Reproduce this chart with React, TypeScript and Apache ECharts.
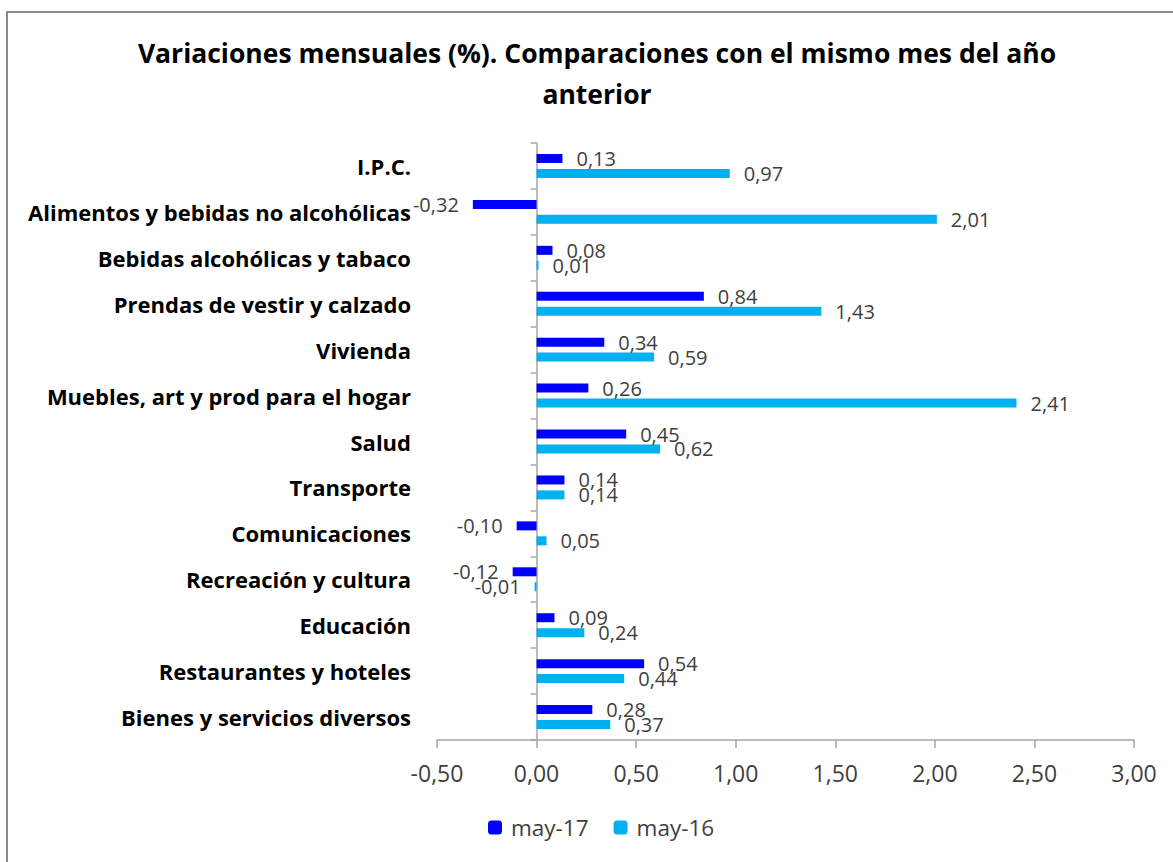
import React, { useEffect, useRef } from "react";
import * as echarts from "echarts";

const categories = [
  "I.P.C.",
  "Alimentos y bebidas no alcohólicas",
  "Bebidas alcohólicas y tabaco",
  "Prendas de vestir y calzado",
  "Vivienda",
  "Muebles, art y prod para el hogar",
  "Salud",
  "Transporte",
  "Comunicaciones",
  "Recreación y cultura",
  "Educación",
  "Restaurantes y hoteles",
  "Bienes y servicios diversos",
];
const may17 = [0.13, -0.32, 0.08, 0.84, 0.34, 0.26, 0.45, 0.14, -0.1, -0.12, 0.09, 0.54, 0.28];
const may16 = [0.97, 2.01, 0.01, 1.43, 0.59, 2.41, 0.62, 0.14, 0.05, -0.01, 0.24, 0.44, 0.37];
const seriesNames = ["may-17", "may-16"];
const xMin = -0.5;
const xMax = 3;
const xInterval = 0.5;

const FONT = "Open Sans";
const fmt = (v: number) => v.toFixed(2).replace(".", ",");

export default function App() {
  const ref = useRef<HTMLDivElement>(null);
  useEffect(() => {
    if (!ref.current) return;
    const chart = echarts.init(ref.current, undefined, { renderer: "svg" });
    const mk = (vals: number[]) =>
      vals.map((v) => ({
        value: v,
        label: { position: v < 0 ? "left" : "right" },
      }));
    const labelCfg = {
      show: true,
      distance: 14,
      fontFamily: FONT,
      fontSize: 20,
      color: "#404040",
      formatter: (p: any) => fmt(p.value),
    };
    chart.setOption({
      animation: false,
      backgroundColor: "#ffffff",
      title: {
        text: "Variaciones mensuales (%). Comparaciones con el mismo mes del año\nanterior",
        left: 597,
        top: 32,
        padding: 0,
        textAlign: "center",
        textStyle: {
          fontFamily: FONT,
          fontSize: 26.5,
          fontWeight: "bold",
          color: "#000",
          lineHeight: 41,
        },
      },
      legend: {
        data: seriesNames,
        left: 488,
        top: 816,
        padding: 0,
        itemWidth: 14,
        itemHeight: 14,
        itemGap: 25,
        textStyle: { fontFamily: FONT, fontSize: 22.5, color: "#404040", padding: [0, 0, 0, 4] },
      },
      grid: { left: 437, right: 39, top: 143, bottom: 122, containLabel: false },
      xAxis: {
        type: "value",
        min: xMin,
        max: xMax,
        interval: xInterval,
        splitLine: { show: false },
        axisLine: { show: true, onZero: false, lineStyle: { color: "#A6A6A6", width: 1.5 } },
        axisTick: { show: true, length: 8, lineStyle: { color: "#A6A6A6", width: 1.5 } },
        axisLabel: {
          fontFamily: FONT,
          fontSize: 23,
          color: "#404040",
          margin: 21,
          formatter: (v: number) => fmt(v),
        },
      },
      yAxis: [
        {
          type: "category",
          data: categories,
          inverse: true,
          position: "left",
          axisLine: { show: false, onZero: false },
          axisTick: { show: false },
          axisLabel: {
            fontFamily: FONT,
            fontSize: 22,
            fontWeight: "bold",
            color: "#000",
            margin: 26,
          },
        },
        {
          type: "category",
          data: categories,
          inverse: true,
          position: "right",
          axisLine: { show: true, onZero: true, lineStyle: { color: "#A6A6A6", width: 1.5 } },
          axisTick: { show: true, inside: true, length: 6, lineStyle: { color: "#A6A6A6", width: 1.5 } },
          axisLabel: { show: false },
        },
      ],
      graphic: [
        {
          type: "rect",
          shape: { x: 7, y: 12, width: 1200, height: 900 },
          style: { fill: "none", stroke: "#898989", lineWidth: 2 },
          silent: true,
        },
      ],
      series: [
        {
          name: seriesNames[0],
          type: "bar",
          yAxisIndex: 0,
          data: mk(may17),
          barWidth: 9,
          barGap: "66%",
          itemStyle: { color: "#0000FF" },
          label: labelCfg,
        },
        {
          name: seriesNames[1],
          type: "bar",
          yAxisIndex: 0,
          data: mk(may16),
          barWidth: 9,
          barGap: "66%",
          itemStyle: { color: "#00B0F0" },
          label: labelCfg,
        },
      ],
    });
    return () => chart.dispose();
  }, []);
  return (
    <div
      ref={ref}
      style={{ position: "absolute", left: 0, top: 0, width: 1173, height: 862 }}
    />
  );
}
